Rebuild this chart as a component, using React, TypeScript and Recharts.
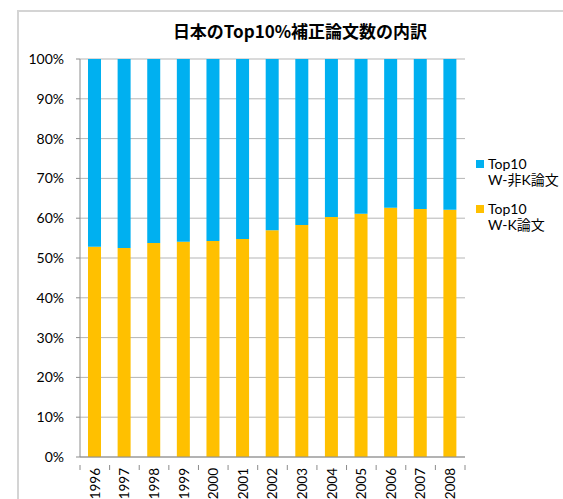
import { BarChart, Bar, XAxis, YAxis, CartesianGrid } from "recharts";

const years = ["1996", "1997", "1998", "1999", "2000", "2001", "2002", "2003", "2004", "2005", "2006", "2007", "2008"];
const wkShare = [52.8, 52.5, 53.8, 54.1, 54.3, 54.8, 57.0, 58.3, 60.3, 61.1, 62.6, 62.3, 62.1];
const nonWkShare = [47.2, 47.5, 46.2, 45.9, 45.7, 45.2, 43.0, 41.7, 39.7, 38.9, 37.4, 37.7, 37.9];
const yTicks = [0, 10, 20, 30, 40, 50, 60, 70, 80, 90, 100];

const legendItems = [
  { key: "nonWk", line1: "Top10", line2: "W-非K論文", color: "#00B0F0" },
  { key: "wk", line1: "Top10", line2: "W-K論文", color: "#FFC000" },
];

const data = years.map((year, i) => ({ year, wk: wkShare[i], nonWk: nonWkShare[i] }));

const FONT = "Lato, 'Noto Sans CJK JP', sans-serif";
const W = 563;
const H = 499;
const Y_AXIS_W = 80;
const RIGHT = 98;
const halfBand = (W - Y_AXIS_W - RIGHT) / years.length / 2;

function YearTick({ x, y, payload, index }: { x?: number; y?: number; payload?: { value: string }; index?: number }) {
  const cx = x ?? 0;
  const cy = y ?? 0;
  const isLast = index === years.length - 1;
  return (
    <g>
      <line x1={cx - halfBand} x2={cx - halfBand} y1={cy} y2={cy + 5} stroke="#8c8c8c" />
      {isLast && <line x1={cx + halfBand} x2={cx + halfBand} y1={cy} y2={cy + 5} stroke="#8c8c8c" />}
      <text
        x={0}
        y={0}
        transform={`translate(${cx},${cy + 3}) rotate(-90)`}
        textAnchor="end"
        dy="0.36em"
        fontSize={13.5}
        fontFamily={FONT}
        fill="#000"
      >
        {payload?.value}
      </text>
    </g>
  );
}

// legend sits to the right of the plot, drawn outside recharts so it doesn't eat plot width
function SideLegend() {
  return (
    <div
      style={{
        position: "absolute",
        left: 476,
        top: 156,
        fontFamily: FONT,
        fontSize: 14,
        color: "#000",
        lineHeight: "16px",
      }}
    >
      {legendItems.map((it) => (
        <div key={it.key} style={{ display: "flex", alignItems: "flex-start", marginBottom: 13 }}>
          <span style={{ width: 8, height: 8, background: it.color, marginTop: 4, marginRight: 4, flexShrink: 0 }} />
          <div>
            <div>{it.line1}</div>
            <div>{it.line2}</div>
          </div>
        </div>
      ))}
    </div>
  );
}

export default function App() {
  return (
    <div style={{ position: "absolute", left: 0, top: 0, width: W, height: H, background: "#fff", overflow: "hidden" }}>
      <div
        style={{
          position: "absolute",
          left: 17,
          top: 10,
          width: 600,
          height: 600,
          borderTop: "2px solid #d4d4d4",
          borderLeft: "2px solid #d4d4d4",
        }}
      />
      <div
        style={{
          position: "absolute",
          left: 0,
          width: 600,
          top: 18,
          textAlign: "center",
          fontFamily: "'Noto Sans CJK JP', sans-serif",
          fontWeight: 700,
          fontSize: 17,
          color: "#000",
        }}
      >
        日本のTop10%補正論文数の内訳
      </div>
      <BarChart
        width={W}
        height={H}
        data={data}
        margin={{ top: 59, right: RIGHT, bottom: 0, left: 0 }}
        style={{ position: "absolute", left: 0, top: 0 }}
      >
        <CartesianGrid vertical={false} stroke="#b5b5b5" />
        <XAxis
          dataKey="year"
          height={42}
          tick={<YearTick />}
          tickLine={false}
          axisLine={{ stroke: "#8c8c8c" }}
          interval={0}
        />
        <YAxis
          width={Y_AXIS_W}
          domain={[0, 100]}
          ticks={yTicks}
          tickFormatter={(v) => `${v}%`}
          tick={{ fontSize: 14, fill: "#000", fontFamily: FONT }}
          tickSize={4}
          tickMargin={12}
          tickLine={{ stroke: "#8c8c8c" }}
          axisLine={{ stroke: "#8c8c8c" }}
        />
        <Bar dataKey="wk" stackId="a" fill="#FFC000" barSize={13} isAnimationActive={false} />
        <Bar dataKey="nonWk" stackId="a" fill="#00B0F0" barSize={13} isAnimationActive={false} />
      </BarChart>
      <SideLegend />
    </div>
  );
}
